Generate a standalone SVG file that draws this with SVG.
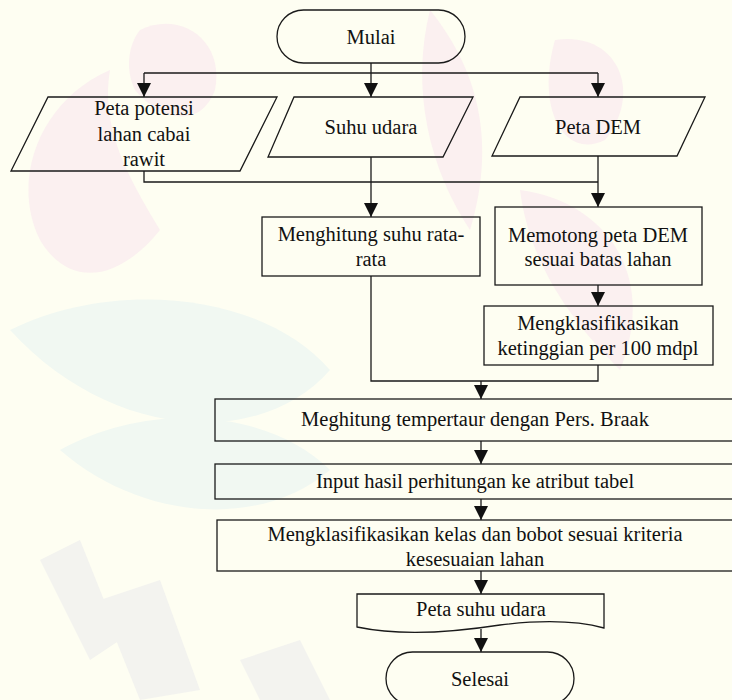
<svg xmlns="http://www.w3.org/2000/svg" width="732" height="700" viewBox="0 0 732 700">
  <defs>
    <marker id="arrow" markerUnits="userSpaceOnUse" markerWidth="16" markerHeight="14" refX="14" refY="7" orient="auto">
      <path d="M0,0 L14,7 L0,14 Z" fill="#111"/>
    </marker>
    <style>
      .shape { fill: none; stroke: #1a1a1a; stroke-width: 1.3; }
      .conn { fill: none; stroke: #1a1a1a; stroke-width: 1.3; }
      .arr { marker-end: url(#arrow); }
      .label { font-size: 20.5px; fill: #111; text-anchor: middle; }
      .wm-pink { fill: #fbf0f0; }
      .wm-teal { fill: #f1f8f2; }
      .wm-grey { fill: #f3f3ef; }
    </style>
  </defs>

  <!-- paper -->
  <rect x="0" y="0" width="732" height="700" fill="#fefef2"/>

  <!-- faint background emblem -->
  <g id="watermark">
    <path class="wm-pink" d="M40,240 C10,180 40,100 110,70 C100,130 130,180 160,230 C120,280 70,290 40,240 Z"/>
    <path class="wm-pink" d="M140,30 C180,10 225,40 215,90 C200,130 160,120 135,90 C125,70 128,45 140,30 Z"/>
    <path class="wm-pink" d="M430,10 C470,60 500,130 470,230 C430,170 410,90 430,10 Z"/>
    <path class="wm-pink" d="M555,40 C615,30 645,90 605,140 C565,160 535,110 555,40 Z"/>
    <path class="wm-pink" d="M520,190 C600,200 660,270 620,370 C580,330 530,270 520,190 Z"/>
    <path class="wm-teal" d="M10,330 C110,280 260,290 330,370 C260,450 110,440 10,330 Z"/>
    <path class="wm-teal" d="M60,450 C150,400 270,410 330,470 C260,530 140,520 60,450 Z"/>
    <path class="wm-grey" d="M40,560 L80,540 L120,640 L90,660 Z"/>
    <path class="wm-grey" d="M100,600 L160,580 L200,690 L140,700 Z"/>
    <path class="wm-grey" d="M240,660 L300,640 L330,700 L260,700 Z"/>
  </g>

  <!-- connectors -->
  <g id="connectors">
    <path class="conn" d="M144,73 H598"/>
    <path class="conn arr" d="M371,63 V97"/>
    <path class="conn arr" d="M144,73 V97"/>
    <path class="conn arr" d="M598,73 V97"/>
    <path class="conn" d="M144,171 V182 H598"/>
    <path class="conn arr" d="M371,157 V217"/>
    <path class="conn arr" d="M598,156 V207"/>
    <path class="conn arr" d="M598,285 V306"/>
    <path class="conn" d="M371,276 V381 H598 V365"/>
    <path class="conn arr" d="M481,381 V399"/>
    <path class="conn arr" d="M481,441 V464"/>
    <path class="conn arr" d="M481,499 V520"/>
    <path class="conn arr" d="M481,571 V594"/>
    <path class="conn arr" d="M481,629 V652"/>
  </g>

  <g font-family="Liberation Serif, Times New Roman, serif">
    <g id="start">
      <rect class="shape" x="277" y="10" width="188" height="53" rx="26.5" ry="26.5"/>
      <text class="label" x="371" y="44">Mulai</text>
    </g>

    <g id="input-potensi">
      <path class="shape" d="M48,97 H277 L240,171 H11 Z"/>
      <text class="label" x="144" y="115">Peta potensi</text>
      <text class="label" x="144" y="141">lahan cabai</text>
      <text class="label" x="144" y="166">rawit</text>
    </g>

    <g id="input-suhu">
      <path class="shape" d="M294,97 H473 L443,157 H268 Z"/>
      <text class="label" x="371" y="134">Suhu udara</text>
    </g>

    <g id="input-dem">
      <path class="shape" d="M520,97 H705 L677,156 H492 Z"/>
      <text class="label" x="598" y="134">Peta DEM</text>
    </g>

    <g id="rata-rata">
      <rect class="shape" x="262" y="217" width="218" height="59"/>
      <text class="label" x="371" y="241">Menghitung suhu rata-</text>
      <text class="label" x="371" y="266">rata</text>
    </g>

    <g id="potong-dem">
      <rect class="shape" x="495" y="207" width="207" height="78"/>
      <text class="label" x="598" y="242">Memotong peta DEM</text>
      <text class="label" x="598" y="266">sesuai batas lahan</text>
    </g>

    <g id="klasifikasi-tinggi">
      <rect class="shape" x="484" y="306" width="229" height="59"/>
      <text class="label" x="598" y="330">Mengklasifikasikan</text>
      <text class="label" x="598" y="355">ketinggian per 100 mdpl</text>
    </g>

    <g id="braak">
      <rect class="shape" x="215" y="399" width="530" height="42"/>
      <text class="label" x="475" y="426">Meghitung tempertaur dengan Pers. Braak</text>
    </g>

    <g id="atribut">
      <rect class="shape" x="215" y="464" width="530" height="35"/>
      <text class="label" x="475" y="488">Input hasil perhitungan ke atribut tabel</text>
    </g>

    <g id="klasifikasi-kelas">
      <rect class="shape" x="217" y="520" width="530" height="51"/>
      <text class="label" x="475" y="541">Mengklasifikasikan kelas dan bobot sesuai kriteria</text>
      <text class="label" x="475" y="566">kesesuaian lahan</text>
    </g>

    <g id="peta-suhu">
      <path class="shape" d="M357,594 H604 V628 C575,620 540,620 500,625 C455,632 400,636 357,627 Z"/>
      <text class="label" x="481" y="616">Peta suhu udara</text>
    </g>

    <g id="end">
      <rect class="shape" x="386" y="652" width="188" height="53" rx="26.5" ry="26.5"/>
      <text class="label" x="480" y="686">Selesai</text>
    </g>
  </g>
</svg>
